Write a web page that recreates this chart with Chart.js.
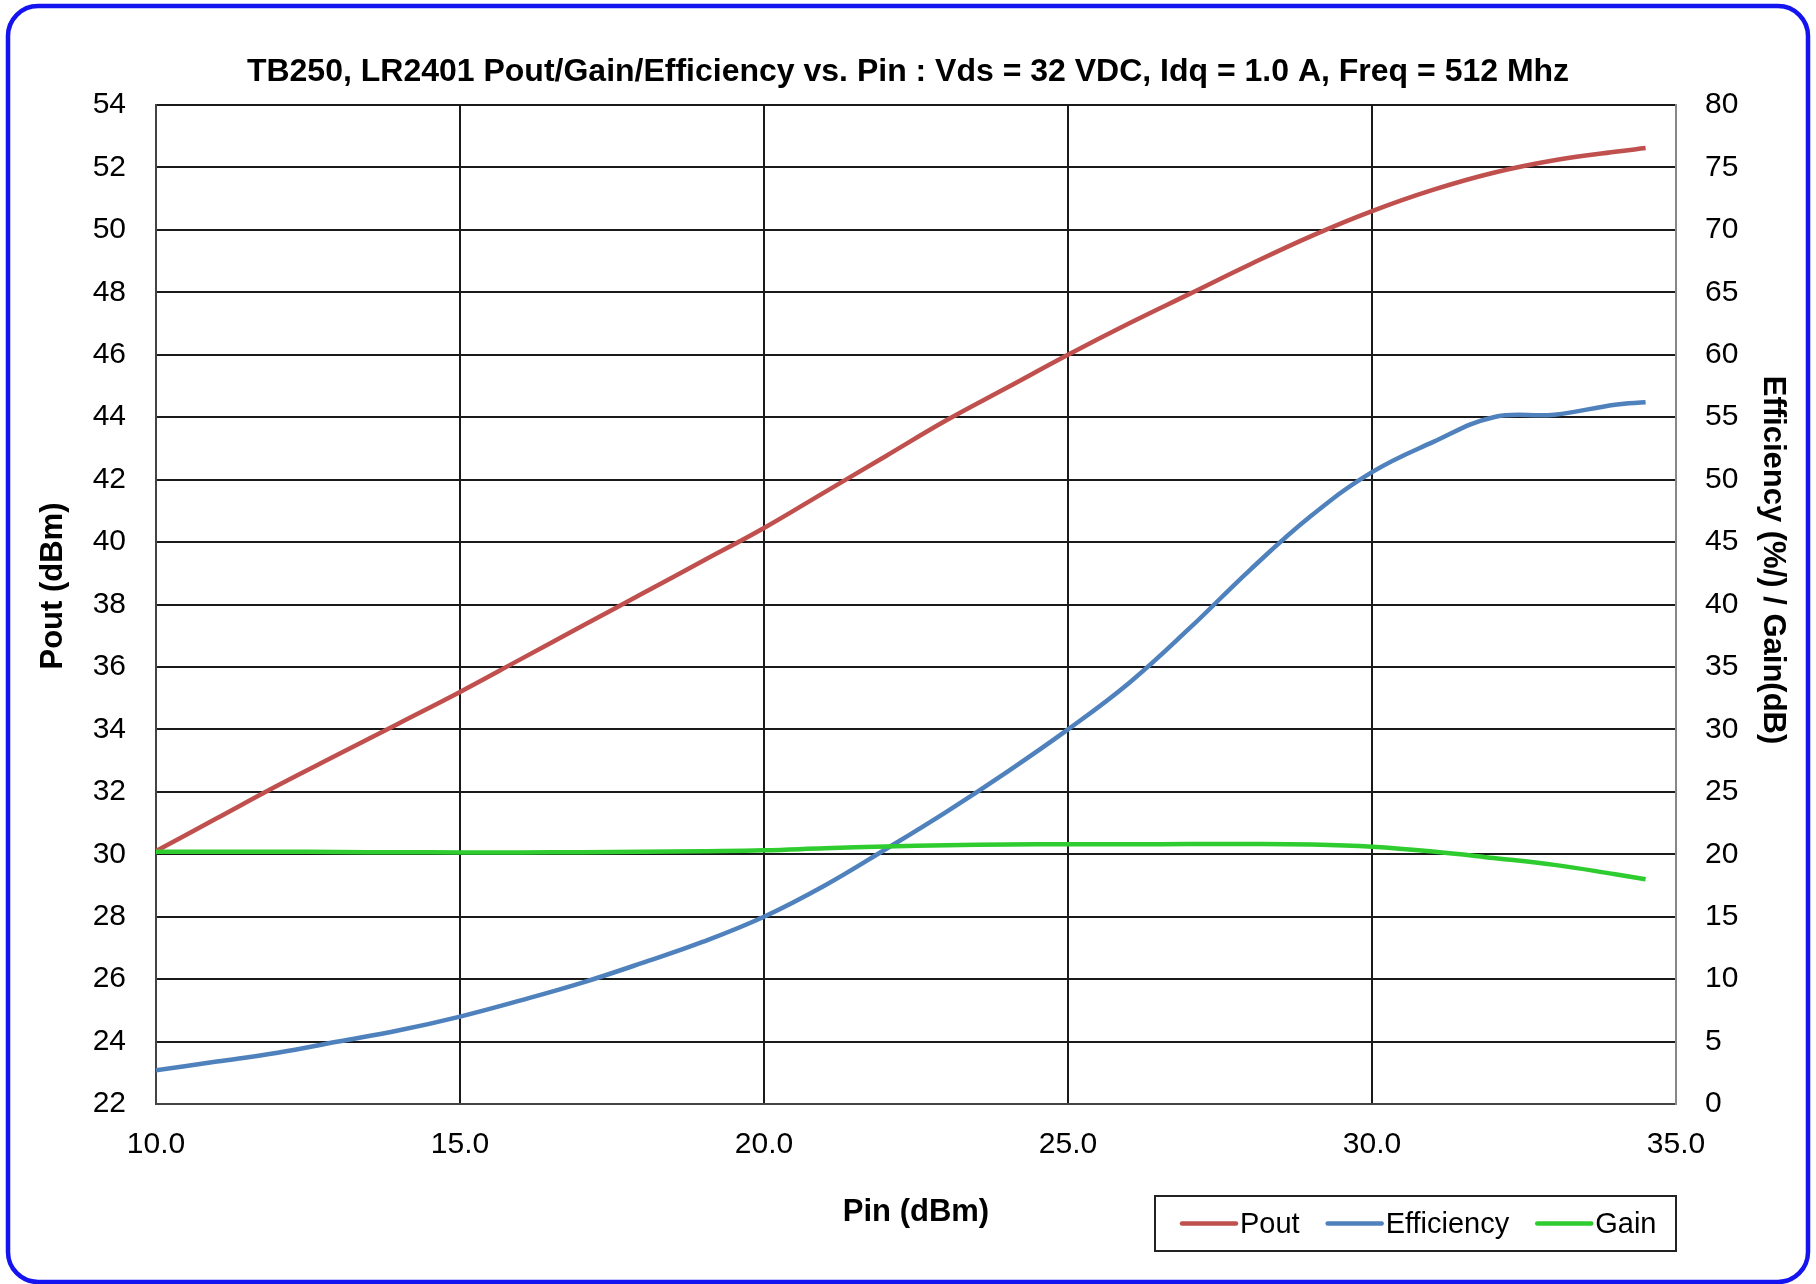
<!DOCTYPE html>
<html>
<head>
<meta charset="utf-8">
<title>TB250, LR2401 Pout/Gain/Efficiency vs. Pin</title>
<script src="https://cdn.jsdelivr.net/npm/chart.js@4.4.1/dist/chart.umd.min.js"></script>
<style>
  html, body { margin: 0; padding: 0; background: #fff; }
  #wrap { width: 1816px; height: 1284px; }
</style>
</head>
<body>
<div id="wrap"><canvas id="chart" width="1816" height="1284"></canvas></div>
<script>
// Pin (dBm) sweep
const pin = [10, 11, 12, 13, 14, 15, 16, 17, 18, 19, 20, 21, 22, 23, 24, 25, 26, 27, 28, 29, 30, 31, 32, 33, 34, 34.5];
// Pout (dBm), left axis
const pout = [30.1, 31.15, 32.2, 33.2, 34.2, 35.2, 36.25, 37.3, 38.35, 39.4, 40.45, 41.6, 42.75, 43.9, 44.95, 46.0, 47.0, 47.95, 48.9, 49.8, 50.6, 51.28, 51.83, 52.23, 52.5, 52.62];
// Efficiency (%), right axis
const efficiency = [2.7, 3.4, 4.1, 5.0, 5.9, 7.0, 8.3, 9.7, 11.3, 13.0, 15.0, 17.5, 20.4, 23.4, 26.6, 30.0, 33.7, 38.1, 42.8, 47.1, 50.6, 53.0, 55.0, 55.2, 56.0, 56.2];
// Gain (dB), right axis
const gain = [20.2, 20.2, 20.2, 20.18, 20.16, 20.15, 20.15, 20.16, 20.2, 20.25, 20.32, 20.48, 20.62, 20.72, 20.78, 20.8, 20.8, 20.82, 20.83, 20.78, 20.6, 20.22, 19.7, 19.15, 18.4, 18.0];

const seriesNames = ["Pout", "Efficiency", "Gain"];
const seriesColors = ["#C0504D", "#4F81BD", "#2ECC2E"];

const chartTitle = "TB250, LR2401 Pout/Gain/Efficiency vs. Pin : Vds = 32 VDC, Idq = 1.0 A, Freq = 512 Mhz";
const xTitle = "Pin (dBm)";
const yTitle = "Pout (dBm)";
const y1Title = "Efficiency (%/) / Gain(dB)";

const FONT = "'Liberation Sans', Arial, sans-serif";

function toPoints(ys) {
  return pin.map((x, i) => ({ x: x, y: ys[i] }));
}

// frame, titles and boxed legend
const decorPlugin = {
  id: "decor",
  beforeDraw: (chart) => {
    const ctx = chart.ctx;
    ctx.save();
    ctx.fillStyle = "#fff";
    ctx.fillRect(0, 0, chart.width, chart.height);
    ctx.restore();
  },
  afterDraw: (chart) => {
    const ctx = chart.ctx;
    const area = chart.chartArea;
    ctx.save();

    // blue rounded frame
    ctx.strokeStyle = "#1414F0";
    ctx.lineWidth = 4.5;
    ctx.beginPath();
    ctx.roundRect(8, 6, chart.width - 16, chart.height - 8, 30);
    ctx.stroke();

    ctx.fillStyle = "#000";
    ctx.textAlign = "center";
    ctx.textBaseline = "middle";

    ctx.font = `bold 32px ${FONT}`;
    ctx.fillText(chartTitle, 908, 72);

    ctx.font = `bold 31px ${FONT}`;
    ctx.fillText(xTitle, (area.left + area.right) / 2, 1212);

    ctx.save();
    ctx.translate(53, 586);
    ctx.rotate(-Math.PI / 2);
    ctx.fillText(yTitle, 0, 0);
    ctx.restore();

    ctx.save();
    ctx.translate(1773, 560);
    ctx.rotate(Math.PI / 2);
    ctx.fillText(y1Title, 0, 0);
    ctx.restore();

    // legend
    const boxLeft = 1155, boxTop = 1196, boxRight = area.right, boxBottom = 1251;
    ctx.strokeStyle = "#222";
    ctx.lineWidth = 2;
    ctx.strokeRect(boxLeft, boxTop, boxRight - boxLeft, boxBottom - boxTop);

    ctx.font = `29px ${FONT}`;
    ctx.textAlign = "left";
    const midY = (boxTop + boxBottom) / 2;
    let x = 1182;
    seriesNames.forEach((name, i) => {
      ctx.strokeStyle = seriesColors[i];
      ctx.lineWidth = 4.5;
      ctx.lineCap = "round";
      ctx.beginPath();
      ctx.moveTo(x, midY);
      ctx.lineTo(x + 54, midY);
      ctx.stroke();
      ctx.fillText(name, x + 58, midY + 1);
      x += 58 + ctx.measureText(name).width + 28;
    });

    ctx.restore();
  },
};

const tickFont = { family: FONT, size: 30 };

new Chart(document.getElementById("chart"), {
  type: "line",
  data: {
    datasets: [
      {
        label: seriesNames[0],
        data: toPoints(pout),
        yAxisID: "y",
        borderColor: seriesColors[0],
        borderWidth: 4.5,
        order: 3,
      },
      {
        label: seriesNames[1],
        data: toPoints(efficiency),
        yAxisID: "y1",
        borderColor: seriesColors[1],
        borderWidth: 4.5,
        order: 2,
      },
      {
        label: seriesNames[2],
        data: toPoints(gain),
        yAxisID: "y1",
        borderColor: seriesColors[2],
        borderWidth: 4.5,
        order: 1,
      },
    ],
  },
  options: {
    responsive: false,
    animation: false,
    devicePixelRatio: 1,
    layout: { padding: { top: 105, left: 0, right: 0, bottom: 0 } },
    elements: {
      point: { radius: 0 },
      line: { tension: 0.4, capBezierPoints: true },
    },
    plugins: {
      legend: { display: false },
      title: { display: false },
      tooltip: { enabled: false },
    },
    scales: {
      x: {
        type: "linear",
        position: "bottom",
        min: 10,
        max: 35,
        afterFit: (scale) => { scale.height = 180; },
        ticks: {
          stepSize: 5,
          padding: 23,
          color: "#000",
          font: tickFont,
          maxRotation: 0,
          callback: (v) => v.toFixed(1),
        },
        grid: { color: "#1a1a1a", lineWidth: 2, drawTicks: false },
        border: { color: "#444", width: 2 },
      },
      y: {
        position: "left",
        min: 22,
        max: 54,
        afterFit: (scale) => { scale.width = 156; },
        ticks: { stepSize: 2, padding: 30, color: "#000", font: tickFont },
        grid: { color: "#1a1a1a", lineWidth: 2, drawTicks: false },
        border: { color: "#444", width: 2 },
      },
      y1: {
        position: "right",
        min: 0,
        max: 80,
        afterFit: (scale) => { scale.width = 140; },
        ticks: { stepSize: 5, padding: 29, color: "#000", font: tickFont },
        grid: { display: false, drawTicks: false },
        border: { color: "#888", width: 2 },
      },
    },
  },
  plugins: [decorPlugin],
});
</script>
</body>
</html>
